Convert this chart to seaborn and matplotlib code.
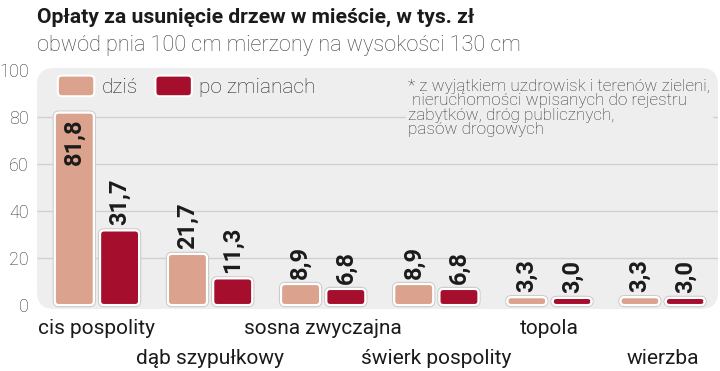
import pandas as pd
import matplotlib
matplotlib.use("Agg")
import matplotlib.pyplot as plt
import seaborn as sns
from matplotlib.patches import FancyBboxPatch
from matplotlib.legend_handler import HandlerPatch
from matplotlib.transforms import ScaledTranslation
import matplotlib.patheffects as pe

# data
categories = ["cis pospolity", "dąb szypułkowy", "sosna zwyczajna",
              "świerk pospolity", "topola", "wierzba"]
today = [81.8, 21.7, 8.9, 8.9, 3.3, 3.3]
after = [31.7, 11.3, 6.8, 6.8, 3.0, 3.0]
series = ["dziś", "po zmianach"]
yticks = [0, 20, 40, 60, 80, 100]

title = "Opłaty za usunięcie drzew w mieście, w tys. zł"
subtitle = "obwód pnia 100 cm mierzony na wysokości 130 cm"
note = ("* z wyjątkiem uzdrowisk i terenów zieleni,\n"
        " nieruchomości wpisanych do rejestru\n"
        "zabytków, dróg publicznych,\n"
        "pasów drogowych")

colors = {"dziś": "#dba28d", "po zmianach": "#a50e2c"}
bg = "#eeeeee"

df = pd.DataFrame({
    "kategoria": categories * 2,
    "wartosc": today + after,
    "seria": [series[0]] * len(categories) + [series[1]] * len(categories),
})

sns.set_style("white")
plt.rcParams["font.family"] = ["Roboto", "DejaVu Sans"]

W, H = 720, 371
fig = plt.figure(figsize=(7.2, 3.71), dpi=100)
# plot box: x 37..718, y 68..309 (pixels from top)
ax = fig.add_axes([37 / W, (H - 309) / H, 681 / W, 241 / H])

sns.barplot(data=df, x="kategoria", y="wartosc", hue="seria",
            palette=colors, saturation=1, width=0.8, gap=0.14, ax=ax,
            legend=False, zorder=3)

ax.set_xlim(-0.53, 5.49)
ax.set_ylim(-1.7, 100.8)

# rounded background box
ax.patch.set_visible(False)
box = FancyBboxPatch((0, 0), 1, 1, boxstyle="round,pad=0,rounding_size=0.025",
                     mutation_aspect=681 / 241, transform=ax.transAxes,
                     facecolor=bg, edgecolor="none", zorder=0, clip_on=False)
ax.add_patch(box)

# grid
ax.set_yticks(yticks)
for v in yticks[1:-1]:
    gl = ax.axhline(v, color="#d0d0d0", lw=1, zorder=1)
    gl.set_clip_path(box)

# rounded bars
asp = (1 / 2.35) / (1 / 113.2)
bars = [b for b in list(ax.patches) if b is not box]
for b in bars:
    x, y = b.get_x(), b.get_y()
    w, h = b.get_width(), b.get_height()
    fc = b.get_facecolor()
    b.set_visible(False)
    rb = FancyBboxPatch((x, y), w, h,
                        boxstyle="round,pad=0,rounding_size=0.035",
                        mutation_aspect=asp, facecolor=fc, edgecolor="white",
                        lw=1.5, zorder=3)
    rb.set_path_effects([pe.withStroke(linewidth=3.2, foreground="#cccccc"),
                         pe.Normal()])
    ax.add_patch(rb)
    val = y + h
    cx = x + w / 2
    lab = f"{val:.1f}".replace(".", ",")
    if val > 60:
        ax.text(cx, val - 2.5, lab, rotation=90, ha="center", va="top",
                fontsize=17, fontweight="bold", color="#1b1b1b", zorder=4)
    else:
        ax.text(cx, val + 2.2, lab, rotation=90, ha="center", va="bottom",
                fontsize=17, fontweight="bold", color="#1b1b1b", zorder=4)

# axes cosmetics
for s in ax.spines.values():
    s.set_visible(False)
ax.set_xlabel("")
ax.set_ylabel("")
ax.tick_params(axis="both", length=0)
ax.tick_params(axis="y", pad=6, labelsize=13, labelcolor="#333333")
ax.set_yticklabels([str(v) for v in yticks], fontweight="light")
ax.set_xticks(range(len(categories)))
ax.set_xticklabels(categories, fontsize=15, color="#1b1b1b")
ax.tick_params(axis="x", pad=7)
# stagger the category labels on two lines
for i, t in enumerate(ax.get_xticklabels()):
    if i % 2 == 1:
        t.set_transform(t.get_transform() +
                        ScaledTranslation(0, -30 / 100, fig.dpi_scale_trans))


# legend with rounded swatches
def rounded(legend, orig_handle, xdescent, ydescent, width, height, fontsize):
    return FancyBboxPatch((-xdescent, -ydescent), width, height,
                          boxstyle="round,pad=0,rounding_size=3")


handles = [FancyBboxPatch((0, 0), 1, 1, facecolor=colors[s], edgecolor="white",
                          lw=1.5) for s in series]
leg = ax.legend(handles, series, loc="upper left", bbox_to_anchor=(0.0, 1.055),
                ncol=2, frameon=False, fontsize=15, handlelength=1.75,
                handleheight=1.15, handletextpad=0.35, columnspacing=0.85,
                borderaxespad=0.6,
                handler_map={FancyBboxPatch: HandlerPatch(patch_func=rounded)})
for t in leg.get_texts():
    t.set_color("#222222")
    t.set_fontweight("light")

# footnote
ax.text(0.545, 0.955, note, transform=ax.transAxes, ha="left", va="top",
        fontsize=12.3, fontweight="light", color="#333333", linespacing=0.95,
        zorder=2, bbox=dict(boxstyle="square,pad=0.15", facecolor=bg,
                            edgecolor="none"))

# titles
fig.text(37 / W, 1 - 17 / H, title, ha="left", va="center", fontsize=15.2,
         fontweight="bold", color="#1b1b1b")
fig.text(37 / W, 1 - 45 / H, subtitle, ha="left", va="center", fontsize=15.6,
         fontweight="light", color="#3c3c3c")

fig.savefig("out.png", dpi=100)
